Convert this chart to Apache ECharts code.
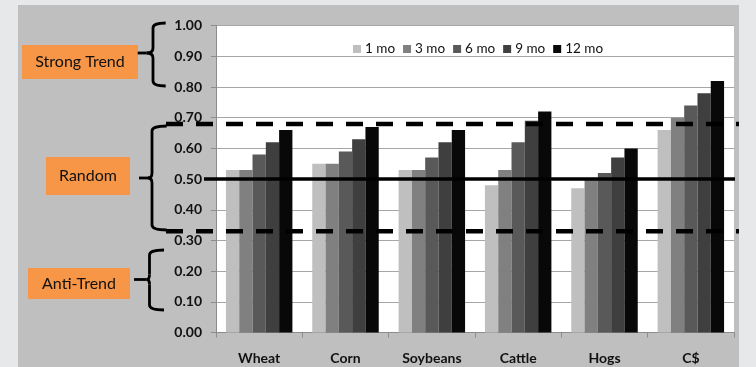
<!DOCTYPE html>
<html>
<head>
<meta charset="utf-8">
<script src="https://cdn.jsdelivr.net/npm/echarts@6/dist/echarts.min.js"></script>
<style>
html,body{margin:0;padding:0;background:#e7e8ea;}
#chart{width:756px;height:367px;}
</style>
</head>
<body>
<div id="chart"></div>
<script>
// ---- data ----
var categories = ['Wheat', 'Corn', 'Soybeans', 'Cattle', 'Hogs', 'C$'];
var seriesNames = ['1 mo', '3 mo', '6 mo', '9 mo', '12 mo'];
var mo1  = [0.53, 0.55, 0.53, 0.48, 0.47, 0.66];
var mo3  = [0.53, 0.55, 0.53, 0.53, 0.50, 0.70];
var mo6  = [0.58, 0.59, 0.57, 0.62, 0.52, 0.74];
var mo9  = [0.62, 0.63, 0.62, 0.69, 0.57, 0.78];
var mo12 = [0.66, 0.67, 0.66, 0.72, 0.60, 0.82];
var dashedLevels = [0.68, 0.33];
var solidLevels = [0.50];
var zoneLabels = ['Strong Trend', 'Random', 'Anti-Trend'];

var colors = ['#bfbfbf', '#808080', '#595959', '#3f3f3f', '#080808'];
var allValues = [mo1, mo3, mo6, mo9, mo12];
var FONT = 'Lato';

var chart = echarts.init(document.getElementById('chart'));

var series = seriesNames.map(function (n, i) {
  return {
    name: n, type: 'bar', data: allValues[i],
    barGap: '0%', barCategoryGap: '23%',
    itemStyle: { color: colors[i] },
    emphasis: { disabled: true }
  };
});

chart.setOption({
  animation: false,
  backgroundColor: '#e7e8ea',
  textStyle: { fontFamily: FONT },
  grid: { left: 216, right: 22, top: 25.7, bottom: 34.5, show: true, backgroundColor: '#ffffff', borderWidth: 0 },
  legend: {
    data: seriesNames, left: 348, top: 37, icon: 'rect', itemWidth: 8, itemHeight: 8, itemGap: 8,
    textStyle: { fontFamily: FONT, fontSize: 13.5, color: '#111', padding: [0, 0, 0, -1] }
  },
  xAxis: {
    type: 'category', data: categories,
    axisLine: { lineStyle: { color: '#8c8c8c', width: 1 } },
    axisTick: { show: true, length: 5, lineStyle: { color: '#8c8c8c' } },
    axisLabel: { fontFamily: FONT, fontWeight: 'bold', fontSize: 14, color: '#111', margin: 19 }
  },
  yAxis: {
    type: 'value', min: 0, max: 1, interval: 0.1,
    axisLine: { show: true, lineStyle: { color: '#8c8c8c' } },
    axisTick: { show: true, length: 5, lineStyle: { color: '#8c8c8c' } },
    splitLine: { lineStyle: { color: '#a6a6a6', width: 1 } },
    axisLabel: { fontFamily: FONT, fontWeight: 'bold', fontSize: 14, color: '#111', margin: 14,
      formatter: function (v) { return v.toFixed(2); } }
  },
  series: series
});

function yPix(v) { return chart.convertToPixel({ yAxisIndex: 0 }, v); }

function brace(xTip, xSpine, xMid, y1, y2, ym, xStick) {
  var r = 5;
  var st = { stroke: '#000', lineWidth: 2.8, fill: null };
  function curve(x1, y1_, cx, cy, x2, y2_) {
    return { type: 'bezierCurve', shape: { x1: x1, y1: y1_, cpx1: cx, cpy1: cy, x2: x2, y2: y2_ }, style: st };
  }
  function seg(x1, y1_, x2, y2_) {
    return { type: 'line', shape: { x1: x1, y1: y1_, x2: x2, y2: y2_ }, style: st };
  }
  return { type: 'group', z: 100, children: [
    curve(xTip, y1, xSpine, y1, xSpine, y1 + r),
    seg(xSpine, y1 + r, xSpine, ym - r),
    curve(xSpine, ym - r, xSpine, ym, xMid, ym),
    curve(xMid, ym, xSpine, ym, xSpine, ym + r),
    seg(xSpine, ym + r, xSpine, y2 - r),
    curve(xSpine, y2 - r, xSpine, y2, xTip, y2),
    seg(xStick, ym, xMid, ym)
  ] };
}

function box(x, y, w, h, text) {
  return { type: 'group', z: 100, children: [
    { type: 'rect', shape: { x: x, y: y, width: w, height: h }, style: { fill: '#f79646' } },
    { type: 'text', style: { x: x + w / 2, y: y + h / 2, text: text, align: 'center', verticalAlign: 'middle',
      font: '16px ' + FONT, fill: '#111' } }
  ] };
}

var graphics = [
  { type: 'rect', z: -10, shape: { x: 18, y: 5, width: 721, height: 370 }, style: { fill: '#bfbfbf' } }
];
dashedLevels.forEach(function (v) {
  var y = yPix(v);
  graphics.push({ type: 'line', z: 100, shape: { x1: 166, y1: y, x2: 739, y2: y },
    style: { stroke: '#000', lineWidth: 4.5, lineDash: [17, 13] } });
});
solidLevels.forEach(function (v) {
  var y = yPix(v);
  graphics.push({ type: 'line', z: 100, shape: { x1: 204, y1: y, x2: 735, y2: y },
    style: { stroke: '#000', lineWidth: 3.5 } });
});
graphics.push(box(22, 45, 116, 34, zoneLabels[0]));
graphics.push(box(46, 157, 84, 38, zoneLabels[1]));
graphics.push(box(28, 268, 102, 31, zoneLabels[2]));
graphics.push(brace(165.7, 153, 146.7, 23, 86, 53, 137.7));
graphics.push(brace(166.7, 152, 148, 126, 230, 178, 139));
graphics.push(brace(164, 149.5, 146.7, 250, 310, 279.5, 134));

chart.setOption({ graphic: graphics });
</script>
</body>
</html>
